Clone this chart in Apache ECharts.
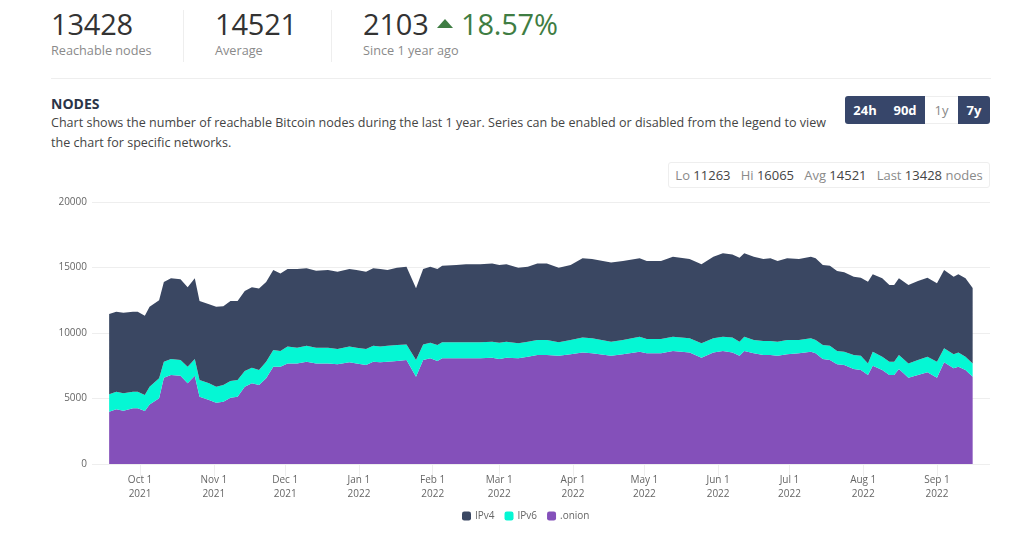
<!DOCTYPE html>
<html><head><meta charset="utf-8">
<script src="https://cdn.jsdelivr.net/npm/echarts@6/dist/echarts.min.js"></script>
<style>
body{margin:0;width:1024px;height:546px;background:#fff;font-family:'Open Sans',sans-serif;position:relative;overflow:hidden;color:#333}
.abs{position:absolute;white-space:nowrap}
.big{font-size:29px;line-height:30px;color:#333;letter-spacing:-0.2px}
.lbl{font-size:12.7px;line-height:16px;color:#8a8a8a}
.sep{position:absolute;width:1px;background:#eee}
.btn{position:absolute;top:96px;height:28px;line-height:28px;text-align:center;font-size:13px;font-weight:bold;color:#fff;background:#37466a}
.stat b{font-weight:normal;color:#444}
</style></head><body>
<div class="abs big" style="left:51px;top:9px">13428</div>
<div class="abs lbl" style="left:51px;top:42px">Reachable nodes</div>
<div class="sep" style="left:183px;top:10px;height:52px"></div>
<div class="abs big" style="left:215px;top:9px">14521</div>
<div class="abs lbl" style="left:215px;top:42px">Average</div>
<div class="sep" style="left:331px;top:10px;height:52px"></div>
<div class="abs big" style="left:363px;top:9px">2103</div>
<div class="abs" style="left:437px;top:19px;width:0;height:0;border-left:8px solid transparent;border-right:8px solid transparent;border-bottom:9px solid #3f7d43"></div>
<div class="abs big" style="left:461px;top:9px;color:#3f7d43">18.57%</div>
<div class="abs lbl" style="left:363px;top:42px">Since 1 year ago</div>
<div class="abs" style="left:51px;top:78px;width:940px;height:1px;background:#eee"></div>
<div class="abs" style="left:51px;top:94px;font-size:14px;font-weight:bold;color:#2b3548">NODES</div>
<div class="abs" style="left:51px;top:113px;font-size:12.55px;line-height:20px;color:#444">Chart shows the number of reachable Bitcoin nodes during the last 1 year. Series can be enabled or disabled from the legend to view<br>the chart for specific networks.</div>
<div class="btn" style="left:845px;width:40px;border-radius:3px 0 0 3px">24h</div>
<div class="btn" style="left:885px;width:40px">90d</div>
<div class="btn" style="left:925px;width:33px;background:#fff;color:#888;font-weight:normal;box-sizing:border-box;border-top:1px solid #eee;border-bottom:1px solid #eee;line-height:26px">1y</div>
<div class="btn" style="left:958px;width:32px;border-radius:0 3px 3px 0">7y</div>
<div class="abs stat" style="left:668px;top:162px;width:322px;height:26px;box-sizing:border-box;border:1px solid #eee;border-radius:3px;font-size:13px;line-height:24px;color:#8a8a8a;text-align:center">Lo <b>11263</b>&nbsp;&nbsp; Hi <b>16065</b>&nbsp;&nbsp; Avg <b>14521</b>&nbsp;&nbsp; Last <b>13428</b> nodes</div>
<div id="chart" class="abs" style="left:0;top:190px;width:1024px;height:356px"></div>
<script>
const dates = ['2021-09-18','2021-09-21','2021-09-24','2021-09-28','2021-09-30','2021-10-03','2021-10-05','2021-10-09','2021-10-11','2021-10-14',
'2021-10-18','2021-10-21','2021-10-24','2021-10-26','2021-10-30','2021-11-02','2021-11-05','2021-11-08','2021-11-11','2021-11-14',
'2021-11-17','2021-11-20','2021-11-23','2021-11-26','2021-11-29','2021-12-02','2021-12-06','2021-12-10','2021-12-14','2021-12-19',
'2021-12-23','2021-12-28','2021-12-31','2022-01-04','2022-01-07','2022-01-10','2022-01-13','2022-01-17','2022-01-21','2022-01-25',
'2022-01-28','2022-01-31','2022-02-03','2022-02-05','2022-02-11','2022-02-15','2022-02-21','2022-02-26','2022-03-01','2022-03-04',
'2022-03-09','2022-03-13','2022-03-17','2022-03-21','2022-03-26','2022-03-31','2022-04-05','2022-04-09','2022-04-17','2022-04-22',
'2022-04-29','2022-05-02','2022-05-08','2022-05-13','2022-05-20','2022-05-25','2022-05-30','2022-06-03','2022-06-07','2022-06-10',
'2022-06-12','2022-06-16','2022-06-20','2022-06-23','2022-06-26','2022-06-30','2022-07-05','2022-07-10','2022-07-12','2022-07-15',
'2022-07-18','2022-07-21','2022-07-24','2022-07-28','2022-07-31','2022-08-03','2022-08-05','2022-08-09','2022-08-12','2022-08-14',
'2022-08-16','2022-08-20','2022-08-24','2022-08-28','2022-09-01','2022-09-04','2022-09-08','2022-09-10','2022-09-13','2022-09-16'];
const ipv4 = [6130,6110,6150,6110,6110,6050,6100,5960,6090,6160,
6160,6070,6160,6030,6030,6100,6020,6100,6030,6110,
6150,6230,6090,6100,5930,5920,6000,5910,5880,5920,
5900,5920,5920,5900,5910,5920,5770,5910,5930,5470,
5750,5800,5800,5850,5900,5950,5950,5970,5930,5900,
5780,5720,5840,5840,5700,5720,6050,6050,6050,6030,
5980,5960,5960,6110,6050,6030,6230,6360,6350,6410,
6360,6360,6260,6310,6160,6230,6180,6230,6230,6110,
6110,6110,6060,5980,5950,6240,5910,5980,5850,5850,
5850,5980,6030,6030,5980,5980,5930,5960,5980,5750];
const ipv6 = [1330,1350,1330,1270,1270,1230,1350,1530,1220,1220,
1200,1270,1270,1270,1280,1220,1270,1280,1270,1190,
1190,1140,1270,1270,1190,1280,1200,1220,1200,1200,
1170,1200,1200,1220,1220,1200,1220,1220,1190,1280,
1190,1190,1220,1220,1220,1220,1220,1220,1240,1220,
1140,1150,1150,1150,1020,1100,1130,1150,1070,1100,
1150,1090,1090,1100,1080,1090,1080,1100,1130,1070,
1100,1020,1070,1070,1070,1100,1020,1030,1020,1060,
1090,1010,1010,1070,1100,890,1070,1020,1020,1020,
1070,1090,1150,1190,1220,1070,1070,1090,1020,1020];
const onion = [3990,4170,4070,4250,4250,4040,4550,5010,6590,6790,
6740,6160,6740,5140,4880,4680,4760,5060,5140,5900,
6160,6030,6540,7430,7430,7680,7680,7810,7680,7680,
7610,7760,7680,7560,7810,7760,7810,7860,7940,6660,
7940,8070,7860,8070,8070,8070,8070,8120,8020,8120,
8070,8190,8320,8320,8270,8370,8520,8450,8270,8370,
8570,8450,8450,8620,8520,8120,8520,8620,8520,8270,
8620,8450,8320,8320,8270,8370,8450,8570,8450,8020,
7940,7610,7560,7250,7170,6790,7500,7170,6790,6790,
7250,6590,6790,7000,6590,7760,7300,7430,7170,6660];
const monthTicks = ['2021-10-01','2021-11-01','2021-12-01','2022-01-01','2022-02-01','2022-03-01',
'2022-04-01','2022-05-01','2022-06-01','2022-07-01','2022-08-01','2022-09-01'];
const monthNames = ['Jan','Feb','Mar','Apr','May','Jun','Jul','Aug','Sep','Oct','Nov','Dec'];
const seriesNames = ['IPv4','IPv6','.onion'];
const colors = {'IPv4':'#3a4762','IPv6':'#05f7d4','.onion':'#8450ba'};

const ts = d => Date.parse(d + 'T00:00:00Z');
const pairs = arr => arr.map((v, i) => [ts(dates[i]), v]);
const tickTs = monthTicks.map(ts);
const xMin = Date.UTC(2021, 8, 10, 19);
const xMax = Date.UTC(2022, 8, 23, 7);

function mkSeries(name, data) {
  return {
    name, type: 'line', stack: 'nodes', data: pairs(data), xAxisIndex: 0,
    showSymbol: false, symbol: 'none',
    lineStyle: {width: 0}, itemStyle: {color: colors[name]},
    areaStyle: {color: colors[name], opacity: 1}
  };
}

const chart = echarts.init(document.getElementById('chart'), null, {renderer: 'canvas'});
chart.setOption({
  useUTC: true,
  animation: false,
  textStyle: {fontFamily: 'Open Sans'},
  grid: {left: 92, right: 34, top: 12, bottom: 82},
  legend: {
    bottom: 20, left: 457, data: seriesNames, icon: 'roundRect',
    itemWidth: 9, itemHeight: 9, itemGap: 10,
    textStyle: {fontSize: 10, color: '#666', padding: [0, 0, 0, -1]}
  },
  xAxis: [{
    type: 'time', min: xMin, max: xMax, show: false
  }, {
    type: 'value', min: xMin, max: xMax, position: 'bottom',
    axisLine: {show: false},
    axisTick: {show: true, customValues: tickTs, length: 12, lineStyle: {color: '#eee'}},
    splitLine: {show: false},
    axisLabel: {
      customValues: tickTs, margin: 9, fontSize: 10, color: '#666', lineHeight: 14,
      formatter: v => { const d = new Date(v); return monthNames[d.getUTCMonth()] + ' ' + d.getUTCDate() + '\n' + d.getUTCFullYear(); }
    }
  }],
  yAxis: {
    type: 'value', min: 0, max: 20000, interval: 5000,
    axisLine: {show: false}, axisTick: {show: false},
    axisLabel: {fontSize: 10, color: '#666', margin: 5, formatter: v => String(v)},
    splitLine: {lineStyle: {color: '#eee'}}
  },
  series: [mkSeries('.onion', onion), mkSeries('IPv6', ipv6), mkSeries('IPv4', ipv4)]
});
</script>
</body></html>
